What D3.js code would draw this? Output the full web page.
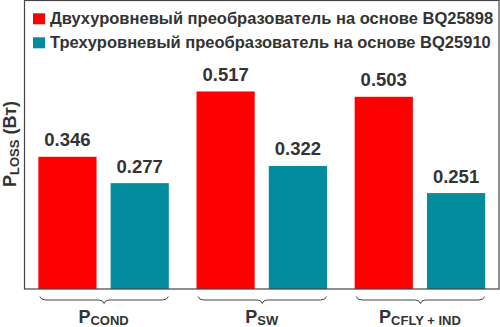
<!DOCTYPE html>
<html><head><meta charset="utf-8">
<script src="https://cdn.jsdelivr.net/npm/d3@7"></script>
<style>body{margin:0;background:#fff}svg{display:block}</style>
</head><body>
<svg id="c" width="500" height="327"></svg>
<script>
const categories = ["COND", "SW", "CFLY + IND"];
const seriesNames = ["Двухуровневый преобразователь на основе BQ25898", "Трехуровневый преобразователь на основе BQ25910"];
const twoLevel = [0.346, 0.517, 0.503];
const threeLevel = [0.277, 0.322, 0.251];
const colors = ["#ff0000", "#028c9d"];
const yLabelMain = "P", yLabelSub = "LOSS", yLabelUnit = " (Вт)";

const svg = d3.select("#c");
const font = "'Liberation Sans', Arial, sans-serif";
const pLeft = 24.5, pRight = 499, pTop = 0.5, pBottom = 289;

const x = d3.scaleBand().domain(categories).range([pLeft, pRight]).paddingInner(0.175).paddingOuter(0.0875);
const xi = d3.scaleBand().domain([0, 1]).range([0, x.bandwidth()]).paddingInner(0.195);
const y = d3.scaleLinear().domain([0, 0.755]).range([pBottom, pTop]);

const series = [twoLevel, threeLevel];
const g = svg.append("g");
categories.forEach((c, ci) => {
  series.forEach((s, si) => {
    const bx = x(c) + xi(si);
    g.append("rect").attr("x", bx).attr("y", y(s[ci])).attr("width", xi.bandwidth())
      .attr("height", y(0) - y(s[ci])).attr("fill", colors[si]);
    g.append("text").attr("x", bx + xi.bandwidth() / 2).attr("y", y(s[ci]) - 10.5)
      .attr("text-anchor", "middle").attr("font-family", font).attr("font-weight", "bold")
      .attr("font-size", 18.5).attr("fill", "#333").text(s[ci].toFixed(3));
  });
  const x1 = x(c) + 1.5, x2 = x(c) + x.bandwidth() - 0.5, cx = (x1 + x2) / 2;
  const p = d3.path();
  p.moveTo(x1, 296.5);
  p.quadraticCurveTo(x1 + 1, 300, x1 + 6, 300);
  p.lineTo(cx - 5, 300);
  p.quadraticCurveTo(cx - 1, 300, cx, 303.5);
  p.quadraticCurveTo(cx + 1, 300, cx + 5, 300);
  p.lineTo(x2 - 6, 300);
  p.quadraticCurveTo(x2 - 1, 300, x2, 296.5);
  g.append("path").attr("d", p.toString()).attr("fill", "none").attr("stroke", "#444").attr("stroke-width", 1);
  const t = g.append("text").attr("x", x(c) + x.bandwidth() / 2).attr("y", 322.6)
    .attr("text-anchor", "middle").attr("font-family", font).attr("font-weight", "bold").attr("fill", "#333");
  t.append("tspan").attr("font-size", 18).text("P");
  t.append("tspan").attr("font-size", 13).attr("dy", 2.6).text(c);
});

svg.append("rect").attr("x", pLeft).attr("y", pTop).attr("width", pRight - pLeft).attr("height", pBottom - pTop)
  .attr("fill", "none").attr("stroke", "#444").attr("stroke-width", 1.2);

seriesNames.forEach((n, i) => {
  const ly = 13.3 + i * 24;
  svg.append("rect").attr("x", 33).attr("y", ly).attr("width", 12).attr("height", 11).attr("fill", colors[i]);
  svg.append("text").attr("x", 50).attr("y", ly + 11).attr("font-family", font).attr("font-weight", "bold")
    .attr("font-size", 16.5).attr("fill", "#333").text(n);
});

const yl = svg.append("text").attr("transform", "translate(15.5,144) rotate(-90)").attr("text-anchor", "middle")
  .attr("font-family", font).attr("font-weight", "bold").attr("fill", "#333");
yl.append("tspan").attr("font-size", 18).text(yLabelMain);
yl.append("tspan").attr("font-size", 13).attr("dy", 3).text(yLabelSub);
yl.append("tspan").attr("font-size", 18).attr("dy", -3).text(yLabelUnit);
</script>
</body></html>
